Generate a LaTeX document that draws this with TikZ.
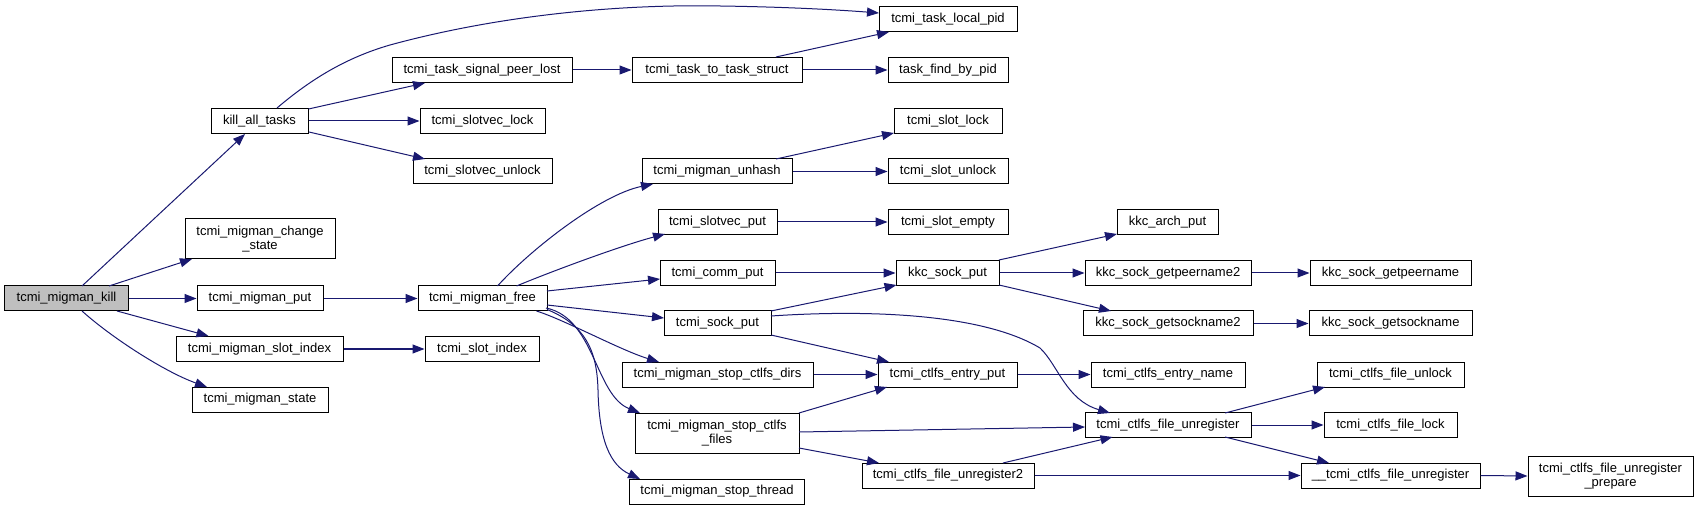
\documentclass[tikz,border=0pt]{standalone}
\usepackage{fontspec}
\setmainfont{Liberation Sans}
\usetikzlibrary{arrows.meta,calc}
\definecolor{edgecol}{HTML}{191970}
\definecolor{rootfill}{HTML}{BFBFBF}
\tikzset{
  box/.style={draw=black, fill=white, line width=1pt, inner sep=0pt, minimum height=25pt, align=center, font=\fontsize{13}{14}\selectfont},
  tallbox/.style={box, minimum height=40pt},
  rootbox/.style={box, fill=rootfill},
  edge/.style={draw=edgecol, line width=1pt, -{Triangle[length=12pt,width=9pt]}}
}
\begin{document}
\begin{tikzpicture}[x=1pt,y=-1pt]
\useasboundingbox (0,0) rectangle (1699,510);
% nodes
\node[rootbox, minimum width=124pt] (mk) at (66.5,298.5) {tcmi\_migman\_kill};
\node[box, minimum width=97pt] (kat) at (259.5,121) {kill\_all\_tasks};
\node[tallbox, minimum width=150pt] (mcs) at (260,239) {tcmi\_migman\_change\\\_state};
\node[box, minimum width=126pt] (mput) at (260,298.5) {tcmi\_migman\_put};
\node[box, minimum width=167pt] (msi) at (259.5,349) {tcmi\_migman\_slot\_index};
\node[box, minimum width=136pt] (mst) at (260,399.5) {tcmi\_migman\_state};
\node[box, minimum width=180pt] (tspl) at (482,70) {tcmi\_task\_signal\_peer\_lost};
\node[box, minimum width=125pt] (svl) at (482.5,121) {tcmi\_slotvec\_lock};
\node[box, minimum width=139pt] (svu) at (482.5,171.5) {tcmi\_slotvec\_unlock};
\node[box, minimum width=129pt] (mfree) at (482.5,298.5) {tcmi\_migman\_free};
\node[box, minimum width=114pt] (sli) at (482,349) {tcmi\_slot\_index};
\node[box, minimum width=138pt] (tlp) at (948,19) {tcmi\_task\_local\_pid};
\node[box, minimum width=170pt] (tts) at (717,70) {tcmi\_task\_to\_task\_struct};
\node[box, minimum width=120pt] (tfp) at (948,70) {task\_find\_by\_pid};
\node[box, minimum width=108pt] (slk) at (948,121) {tcmi\_slot\_lock};
\node[box, minimum width=150pt] (unh) at (717,171.5) {tcmi\_migman\_unhash};
\node[box, minimum width=120pt] (sul) at (948,171.5) {tcmi\_slot\_unlock};
\node[box, minimum width=119pt] (svp) at (717.5,222) {tcmi\_slotvec\_put};
\node[box, minimum width=120pt] (sem) at (948,222) {tcmi\_slot\_empty};
\node[box, minimum width=115pt] (cput) at (717.5,273) {tcmi\_comm\_put};
\node[box, minimum width=107pt] (sput) at (717.5,323.5) {tcmi\_sock\_put};
\node[box, minimum width=191pt] (scd) at (717.5,374.5) {tcmi\_migman\_stop\_ctlfs\_dirs};
\node[tallbox, minimum width=164pt] (scf) at (717,433) {tcmi\_migman\_stop\_ctlfs\\\_files};
\node[box, minimum width=175pt] (sth) at (717,491.5) {tcmi\_migman\_stop\_thread};
\node[box, minimum width=103pt] (ksp) at (947.5,273) {kkc\_sock\_put};
\node[box, minimum width=139pt] (cep) at (947.5,374.5) {tcmi\_ctlfs\_entry\_put};
\node[box, minimum width=172pt] (fu2) at (948,475.5) {tcmi\_ctlfs\_file\_unregister2};
\node[box, minimum width=101pt] (kap) at (1167.5,222) {kkc\_arch\_put};
\node[box, minimum width=166pt] (gpn2) at (1168,273) {kkc\_sock\_getpeername2};
\node[box, minimum width=170pt] (gsn2) at (1168,323.5) {kkc\_sock\_getsockname2};
\node[box, minimum width=154pt] (cen) at (1168,374.5) {tcmi\_ctlfs\_entry\_name};
\node[box, minimum width=166pt] (fu) at (1168,425) {tcmi\_ctlfs\_file\_unregister};
\node[box, minimum width=161pt] (gpn) at (1390.5,273) {kkc\_sock\_getpeername};
\node[box, minimum width=163pt] (gsn) at (1390.5,323.5) {kkc\_sock\_getsockname};
\node[box, minimum width=147pt] (ful) at (1390.5,374.5) {tcmi\_ctlfs\_file\_unlock};
\node[box, minimum width=133pt] (fl) at (1390.5,425) {tcmi\_ctlfs\_file\_lock};
\node[box, minimum width=179pt] (ufu) at (1390.5,475.5) {\_\_tcmi\_ctlfs\_file\_unregister};
\node[tallbox, minimum width=165pt] (prep) at (1610.5,476) {tcmi\_ctlfs\_file\_unregister\\\_prepare};
% edges
\draw[edge] ($(mk)+(15.5,-12.5)$) -- ($(kat)+(-14.5,13)$);
\draw[edge] ($(mk)+(42.5,-12.5)$) -- ($(mcs)+(-68,20)$);
\draw[edge] (mk.east) -- (mput.west);
\draw[edge] ($(mk)+(50.5,12.5)$) -- ($(msi)+(-51,-13)$);
\draw[edge] ($(mk)+(15.5,12.5)$) .. controls (112,338) and (165,372) .. ($(mst)+(-53,-12.5)$);
\draw[edge] ($(kat)+(17.5,-13)$) .. controls (310,80) and (345,58) .. (390,45) .. controls (500,15) and (620,4) .. (720,6) .. controls (790,7) and (840,10) .. ($(tlp)+(-69,-6)$);
\draw[edge] ($(kat)+(49,-12)$) -- ($(tspl)+(-57,13)$);
\draw[edge] (kat.east) -- (svl.west);
\draw[edge] ($(kat)+(49.5,11)$) -- ($(svu)+(-57.5,-12.5)$);
\draw[edge] (tspl.east) -- (tts.west);
\draw[edge] ($(tts)+(59,-13)$) -- ($(tlp)+(-59,13)$);
\draw[edge] (tts.east) -- (tfp.west);
\draw[edge] (mput.east) -- (mfree.west);
\draw[edge] (msi.east) -- (sli.west);
\draw[edge] ($(mfree)+(15,-12.5)$) .. controls (530,250) and (600,195) .. ($(unh)+(-64,12.5)$);
\draw[edge] ($(mfree)+(34,-12.5)$) .. controls (550,272) and (620,246) .. ($(svp)+(-52.5,12)$);
\draw[edge] ($(mfree)+(64.5,-7.5)$) -- ($(cput)+(-57.5,6)$);
\draw[edge] ($(mfree)+(64.5,6.5)$) -- ($(sput)+(-53.5,-5.5)$);
\draw[edge] ($(mfree)+(54,12.5)$) .. controls (565,320) and (620,350) .. ($(scd)+(-58.5,-12.5)$);
\draw[edge] ($(mfree)+(63.5,9.5)$) .. controls (595,318) and (595,395) .. ($(scf)+(-77,-20)$);
\draw[edge] ($(mfree)+(64.5,11)$) .. controls (585,325) and (597,350) .. (598,390) .. controls (599,440) and (610,465) .. ($(sth)+(-77,-12.5)$);
\draw[edge] (svp.east) -- (sem.west);
\draw[edge] ($(unh)+(59,-12.5)$) -- ($(slk)+(-54,12)$);
\draw[edge] (unh.east) -- (sul.west);
\draw[edge] (cput.east) -- (ksp.west);
\draw[edge] ($(sput)+(53.5,-12.5)$) -- ($(ksp)+(-51,12)$);
\draw[edge] ($(sput)+(53.5,11.5)$) -- ($(cep)+(-58.5,-12.5)$);
\draw[edge] ($(sput)+(53.5,-7.5)$) .. controls (860,310) and (980,312) .. (1040,348) .. controls (1058,365) and (1066,400) .. ($(fu)+(-58,-12)$);
\draw[edge] (scd.east) -- (cep.west);
\draw[edge] ($(scf)+(82,-20)$) -- ($(cep)+(-60.5,12.5)$);
\draw[edge] ($(scf)+(82,-1)$) -- ($(fu)+(-83,2)$);
\draw[edge] ($(scf)+(82,15)$) -- ($(fu2)+(-69,-12.5)$);
\draw[edge] (cep.east) -- (cen.west);
\draw[edge] ($(ksp)+(51.5,-13)$) -- ($(kap)+(-50.5,12)$);
\draw[edge] (ksp.east) -- (gpn2.west);
\draw[edge] ($(ksp)+(51.5,12)$) -- ($(gsn2)+(-57,-12.5)$);
\draw[edge] (gpn2.east) -- (gpn.west);
\draw[edge] (gsn2.east) -- (gsn.west);
\draw[edge] ($(fu2)+(55,-12.5)$) -- ($(fu)+(-55.5,12)$);
\draw[edge] (fu2.east) -- (ufu.west);
\draw[edge] ($(fu)+(57,-12)$) -- ($(ful)+(-65.5,12.5)$);
\draw[edge] (fu.east) -- (fl.west);
\draw[edge] ($(fu)+(57,12)$) -- ($(ufu)+(-61.5,-12.5)$);
\draw[edge] (ufu.east) -- (prep.west);
\end{tikzpicture}
\end{document}
